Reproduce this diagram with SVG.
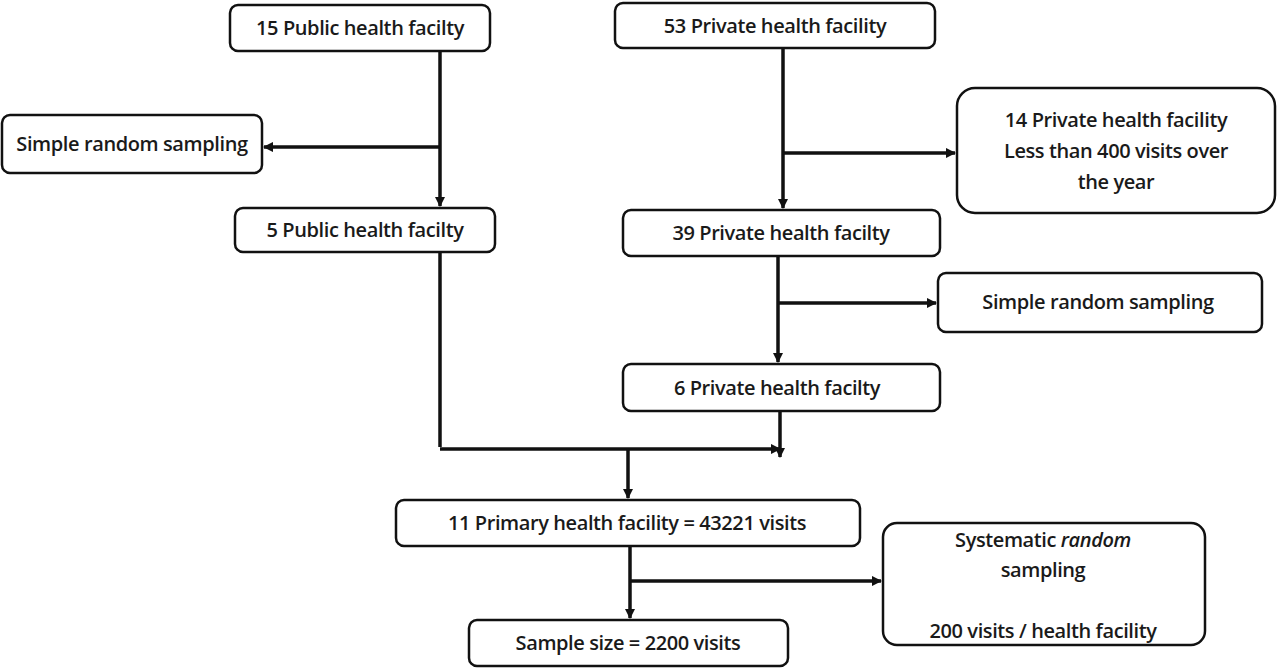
<svg xmlns="http://www.w3.org/2000/svg" width="1280" height="671" viewBox="0 0 1280 671">
<style>
.b{fill:#fff;stroke:#111;stroke-width:2.5}
.t{font-family:"Open Sans","Liberation Sans",sans-serif;font-size:20px;font-weight:600;letter-spacing:-0.4px;fill:#1a1a1a;text-anchor:middle}
.c{fill:none;stroke:#111;stroke-width:3.5}
</style>
<defs><marker id="a" viewBox="0 0 10 10" refX="9" refY="5" markerWidth="3" markerHeight="3" orient="auto"><path d="M0,0L10,5L0,10z" fill="#111"/></marker></defs>
<rect width="1280" height="671" fill="#fff"/>
<g id="connectors">
<path class="c" d="M440,51V206" marker-end="url(#a)"/>
<path class="c" d="M440,147H264" marker-end="url(#a)"/>
<path class="c" d="M783,48V208" marker-end="url(#a)"/>
<path class="c" d="M783,153H955" marker-end="url(#a)"/>
<path class="c" d="M778,256V362" marker-end="url(#a)"/>
<path class="c" d="M778,303H936" marker-end="url(#a)"/>
<path class="c" d="M440,252V447"/>
<path class="c" d="M440,449H780" marker-end="url(#a)"/>
<path class="c" d="M780,411V457" marker-end="url(#a)"/>
<path class="c" d="M628,449V498" marker-end="url(#a)"/>
<path class="c" d="M630,546V618" marker-end="url(#a)"/>
<path class="c" d="M630,581H881" marker-end="url(#a)"/>
</g>
<g id="n1"><rect class="b" x="230" y="5" width="260" height="46" rx="8"/><text class="t" x="360" y="35">15 Public health facilty</text></g>
<g id="n2"><rect class="b" x="615" y="3" width="320" height="45" rx="8"/><text class="t" x="775" y="33">53 Private health facility</text></g>
<g id="n3"><rect class="b" x="2" y="115" width="260" height="58" rx="8"/><text class="t" x="132" y="151">Simple random sampling</text></g>
<g id="n4"><rect class="b" x="957" y="88" width="318" height="125" rx="18"/><text class="t" x="1116" y="127">14 Private health facility</text><text class="t" x="1116" y="158">Less than 400 visits over</text><text class="t" x="1116" y="189">the year</text></g>
<g id="n5"><rect class="b" x="235" y="208" width="260" height="44" rx="8"/><text class="t" x="365" y="237">5 Public health facilty</text></g>
<g id="n6"><rect class="b" x="623" y="210" width="317" height="46" rx="8"/><text class="t" x="781" y="240">39 Private health facilty</text></g>
<g id="n7"><rect class="b" x="938" y="273" width="324" height="59" rx="8"/><text class="t" x="1098" y="309">Simple random sampling</text></g>
<g id="n8"><rect class="b" x="623" y="364" width="317" height="47" rx="8"/><text class="t" x="777" y="395">6 Private health facilty</text></g>
<g id="n9"><rect class="b" x="396" y="500" width="464" height="46" rx="8"/><text class="t" x="627" y="530">11 Primary  health facility = 43221 visits</text></g>
<g id="n10"><rect class="b" x="883" y="523" width="322" height="122" rx="14"/><text class="t" x="1043" y="547">Systematic <tspan font-style="italic">random</tspan></text><text class="t" x="1043" y="577">sampling</text><text class="t" x="1043" y="638">200 visits / health facility</text></g>
<g id="n11"><rect class="b" x="469" y="620" width="319" height="46" rx="8"/><text class="t" x="628" y="650">Sample size = 2200 visits</text></g>
</svg>
